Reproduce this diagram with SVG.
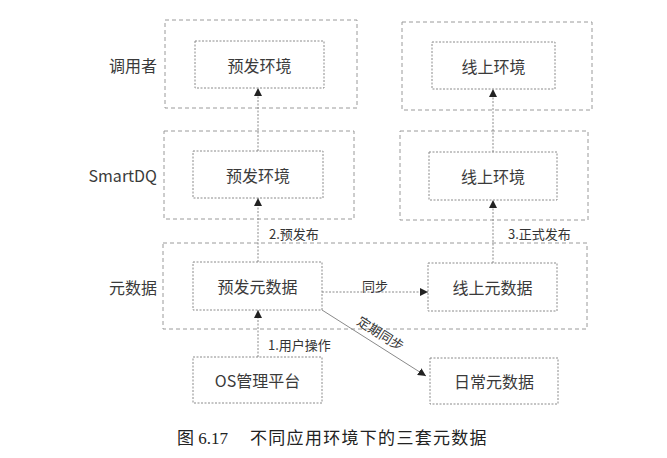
<svg xmlns="http://www.w3.org/2000/svg" width="667" height="458" viewBox="0 0 667 458">
<defs>
<style>
.grp{fill:none;stroke:#9a9a9a;stroke-width:1;stroke-dasharray:4 3}
.box{fill:#fff;stroke:#8a8a8a;stroke-width:1;stroke-dasharray:2 1.5}
.t{font-family:"Noto Sans CJK SC","Noto Sans",sans-serif;font-size:16px;fill:#3a3a3a;text-anchor:middle;dominant-baseline:central}
.lab{font-family:"Noto Sans CJK SC","Noto Sans",sans-serif;font-size:16px;fill:#3a3a3a;text-anchor:end;dominant-baseline:central}
.el{font-family:"Noto Sans CJK SC","Noto Sans",sans-serif;font-size:13px;fill:#333;dominant-baseline:central}
.ln{fill:none;stroke:#8a8a8a;stroke-width:1;stroke-dasharray:2 1.5}
.sl{fill:none;stroke:#8a8a8a;stroke-width:1}
.cap{font-family:"Liberation Serif","Noto Sans CJK SC",serif;font-size:17px;fill:#222}
</style>
<marker id="ah" viewBox="0 0 10 10" refX="10" refY="5" markerWidth="8" markerHeight="8" orient="auto" markerUnits="userSpaceOnUse">
<path d="M0,0 L10,5 L0,10 Z" fill="#222"/>
</marker>
</defs>
<rect width="667" height="458" fill="#fff"/>
<g id="groups">
<rect class="grp" x="165" y="20" width="192" height="88"/>
<rect class="grp" x="402" y="22" width="190" height="88"/>
<rect class="grp" x="164" y="131" width="190" height="88"/>
<rect class="grp" x="400" y="131" width="188" height="89"/>
<rect class="grp" x="163" y="243" width="424" height="86"/>
</g>
<g id="row-labels">
<text class="lab" x="157" y="65">调用者</text>
<text class="lab" x="157" y="175">SmartDQ</text>
<text class="lab" x="157" y="287">元数据</text>
</g>
<g id="connectors">
<line class="ln" x1="258" y1="151" x2="258" y2="88" marker-end="url(#ah)"/>
<line class="ln" x1="493" y1="152" x2="493" y2="89" marker-end="url(#ah)"/>
<line class="ln" x1="258" y1="262" x2="258" y2="198" marker-end="url(#ah)"/>
<text class="el" x="269" y="233">2.预发布</text>
<line class="ln" x1="493" y1="263" x2="493" y2="200" marker-end="url(#ah)"/>
<text class="el" x="508" y="233">3.正式发布</text>
<line class="ln" x1="322" y1="292" x2="428" y2="292" marker-end="url(#ah)"/>
<text class="el" x="375" y="285" text-anchor="middle">同步</text>
<line class="ln" x1="258" y1="357" x2="258" y2="310" marker-end="url(#ah)"/>
<text class="el" x="268" y="344">1.用户操作</text>
<line class="sl" x1="322" y1="310" x2="426" y2="376" marker-end="url(#ah)"/>
<text class="el" x="381" y="333" text-anchor="middle" transform="rotate(32.4 381 333)">定期同步</text>
</g>
<g id="pre-env-caller"><rect class="box" x="195" y="41" width="129" height="47"/><text class="t" x="259.5" y="64.5">预发环境</text></g>
<g id="online-env-caller"><rect class="box" x="432" y="42" width="123" height="47"/><text class="t" x="493.5" y="65.5">线上环境</text></g>
<g id="pre-env-dq"><rect class="box" x="193" y="151" width="130" height="47"/><text class="t" x="258" y="174.5">预发环境</text></g>
<g id="online-env-dq"><rect class="box" x="429" y="152" width="128" height="48"/><text class="t" x="493" y="176">线上环境</text></g>
<g id="pre-meta"><rect class="box" x="193" y="262" width="129" height="48"/><text class="t" x="257.5" y="286">预发元数据</text></g>
<g id="online-meta"><rect class="box" x="428" y="263" width="129" height="48"/><text class="t" x="492.5" y="287">线上元数据</text></g>
<g id="os-platform"><rect class="box" x="193" y="357" width="129" height="46"/><text class="t" x="257.5" y="380">OS管理平台</text></g>
<g id="daily-meta"><rect class="box" x="430" y="358" width="128" height="46"/><text class="t" x="494" y="381">日常元数据</text></g>
<text class="cap" x="177" y="444">图 6.17<tspan x="250" letter-spacing="1.3">不同应用环境下的三套元数据</tspan></text>
</svg>
